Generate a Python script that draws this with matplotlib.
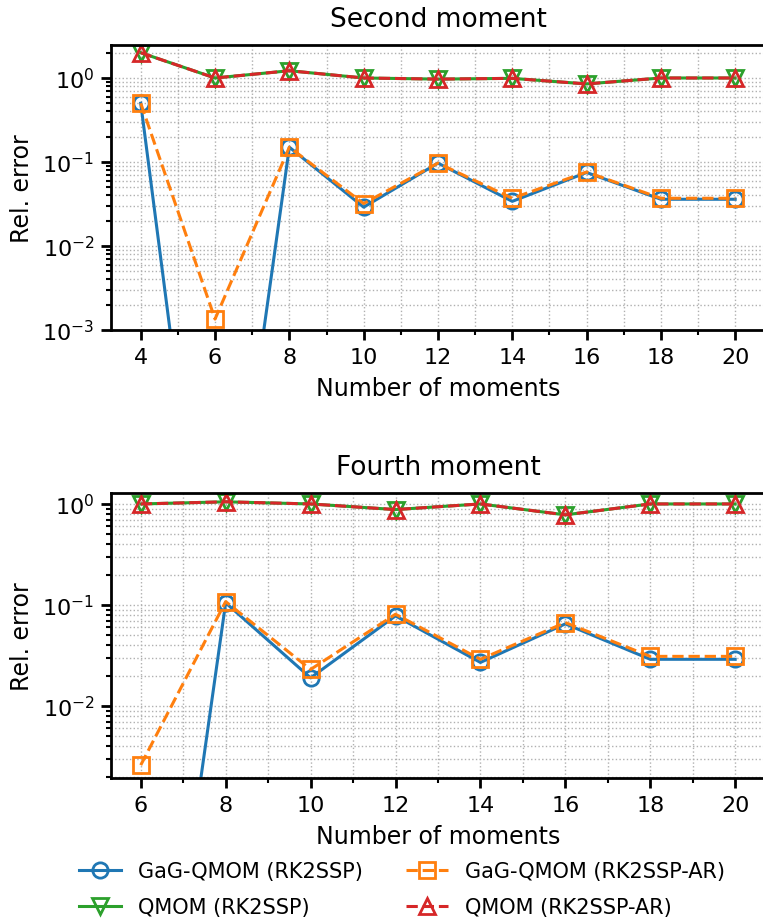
import numpy as np
import matplotlib
matplotlib.use("Agg")
import matplotlib.pyplot as plt
from matplotlib.ticker import MultipleLocator, LogLocator

# ---- data ----
n_top = [4, 6, 8, 10, 12, 14, 16, 18, 20]
gag_rk_top = [0.5, 7e-8, 0.15, 0.029, 0.097, 0.034, 0.075, 0.036, 0.036]
gag_ar_top = [0.5, 1.35e-3, 0.15, 0.032, 0.097, 0.037, 0.076, 0.037, 0.037]
qmom_rk_top = [2.0, 1.0, 1.22, 1.0, 0.97, 0.99, 0.85, 1.0, 1.0]
qmom_ar_top = [2.0, 1.0, 1.22, 1.0, 0.97, 0.99, 0.85, 1.0, 1.0]

n_bot = [6, 8, 10, 12, 14, 16, 18, 20]
gag_rk_bot = [1.2e-7, 0.105, 0.019, 0.078, 0.027, 0.065, 0.029, 0.029]
gag_ar_bot = [2.6e-3, 0.108, 0.023, 0.081, 0.029, 0.067, 0.031, 0.031]
qmom_rk_bot = [1.0, 1.05, 1.0, 0.88, 1.0, 0.78, 1.0, 1.0]
qmom_ar_bot = [1.0, 1.05, 1.0, 0.88, 1.0, 0.78, 1.0, 1.0]

labels = ["GaG-QMOM (RK2SSP)", "GaG-QMOM (RK2SSP-AR)", "QMOM (RK2SSP)", "QMOM (RK2SSP-AR)"]
titles = ["Second moment", "Fourth moment"]

plt.rcParams['font.family'] = ['DejaVu Sans']
fig = plt.figure(figsize=(7.63, 9.2), dpi=100)
ax1 = fig.add_axes([0.1455, 0.6402, 0.857, 0.3098])
ax2 = fig.add_axes([0.1455, 0.1533, 0.857, 0.3098])

C = {'blue': '#1f77b4', 'orange': '#ff7f0e', 'green': '#2ca02c', 'red': '#d62728'}

def draw(ax, n, g1, g2, q1, q2, title, ylim):
    kw = dict(markerfacecolor='none', markersize=11, markeredgewidth=2.0, linewidth=2.2)
    h1, = ax.plot(n, g1, '-o', color=C['blue'], label=labels[0], **kw)
    h3, = ax.plot(n, q1, '-v', color=C['green'], label=labels[2], **kw)
    h2, = ax.plot(n, g2, '--s', color=C['orange'], label=labels[1], **kw)
    h4, = ax.plot(n, q2, '--^', color=C['red'], label=labels[3], **kw)
    ax.set_yscale('log')
    ax.set_ylim(*ylim)
    ax.set_xticks(n)
    ax.xaxis.set_minor_locator(MultipleLocator(1))
    ax.yaxis.set_major_locator(LogLocator(base=10, numticks=20))
    ax.yaxis.set_minor_locator(LogLocator(base=10, subs=np.arange(2, 10), numticks=20))
    ax.grid(True, which='both', linestyle=':', color='#b0b0b0', linewidth=1.0)
    ax.set_title(title, fontsize=19, pad=14)
    ax.set_xlabel("Number of moments", fontsize=17, labelpad=7)
    ax.set_ylabel("Rel. error", fontsize=17, labelpad=6)
    ax.tick_params(which='major', labelsize=16, length=7, width=2, direction='out', pad=5)
    ax.tick_params(which='minor', length=3.5, width=1.5, direction='out')
    for s in ax.spines.values():
        s.set_linewidth(2)
    return [h1, h2, h3, h4]

handles = draw(ax1, n_top, gag_rk_top, gag_ar_top, qmom_rk_top, qmom_ar_top, titles[0], (1e-3, 2.47))
draw(ax2, n_bot, gag_rk_bot, gag_ar_bot, qmom_rk_bot, qmom_ar_bot, titles[1], (1.94e-3, 1.285))

order = [handles[0], handles[2], handles[1], handles[3]]
fig.legend(order, [h.get_label() for h in order], loc='lower center', ncol=2,
           bbox_to_anchor=(0.527, -0.018), frameon=False, fontsize=15,
           columnspacing=2.1, handlelength=2.0, labelspacing=0.75)

fig.savefig("out.png", dpi=100)
